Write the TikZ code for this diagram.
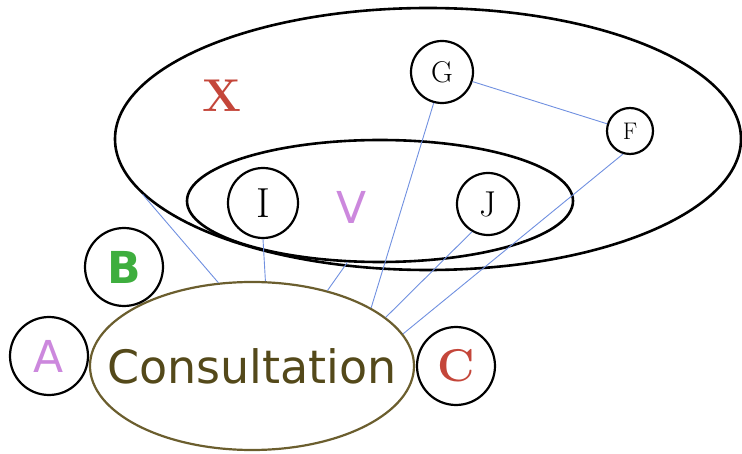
\documentclass[tikz,border=0pt]{standalone}
\usepackage{fontspec}
\newfontfamily\lettersf{DejaVu Sans}
\usetikzlibrary{shapes.geometric}
\definecolor{linkblue}{HTML}{7090E0}
\definecolor{consbrown}{HTML}{6B5E2E}
\definecolor{constext}{HTML}{54491A}
\definecolor{xred}{HTML}{C4463A}
\definecolor{vpink}{HTML}{CC88DD}
\definecolor{bgreen}{HTML}{3EAE3E}
\begin{document}
\begin{tikzpicture}[x=1pt,y=-1pt,
    ring/.style={draw,circle,line width=2.2pt,inner sep=0pt},
    set/.style={draw,ellipse,line width=2.6pt,inner sep=0pt},
    sansletter/.style={font=\lettersf\fontsize{44}{44}\selectfont},
    boldletter/.style={font=\lettersf\bfseries\fontsize{44}{44}\selectfont},
    serifletter/.style={font=\bfseries\fontsize{46}{46}\selectfont},
    link/.style={draw=linkblue,line width=0.9pt}]
  \useasboundingbox (0,0) rectangle (742,454);
  % sets
  \node[set,minimum width=626,minimum height=262] (X) at (428,139) {};
  \node[set,minimum width=386,minimum height=122] (V) at (380,201) {};
  \node[serifletter,text=xred] (xlab) at (222,96) {X};
  \node[sansletter,text=vpink] (vlab) at (352,207) {V};
  % members
  \draw
    (442,72) node[ring,minimum size=62,font=\fontsize{30}{30}\selectfont] (G){G}
    (630,131) node[ring,minimum size=46,font=\fontsize{24}{24}\selectfont] (F){F}
    (263,203) node[ring,minimum size=70,font=\fontsize{42}{42}\selectfont] (I){I}
    (488,204) node[ring,minimum size=62,font=\fontsize{36}{36}\selectfont] (J){J};
  % consultation and its neighbours
  \node[draw=consbrown,ellipse,line width=2.2pt,inner sep=0pt,
    minimum width=324,minimum height=168,text=constext,
    font=\lettersf\fontsize{46}{46}\selectfont] (cons) at (252,366) {\makebox[0pt]{Consultation}};
  \draw
    (49,356) node[ring,minimum size=78,sansletter,text=vpink] (A){A}
    (124,267) node[ring,minimum size=78,boldletter,text=bgreen] (B){B}
    (456,366) node[ring,minimum size=78,serifletter,text=xred] (C){C};
  \begin{scope}[link]
    \draw (G) to (F);
    \draw (cons.112.9) to (X.191.3);
    \draw (cons.81.8) to (I.south);
    \draw (cons.45.4) to (V.242.3);
    \draw (cons.26.2) to (G.255.5);
    \draw (cons.20.2) to (J.240);
    \draw (cons.12.3) to (F.253);
  \end{scope}
\end{tikzpicture}
\end{document}
